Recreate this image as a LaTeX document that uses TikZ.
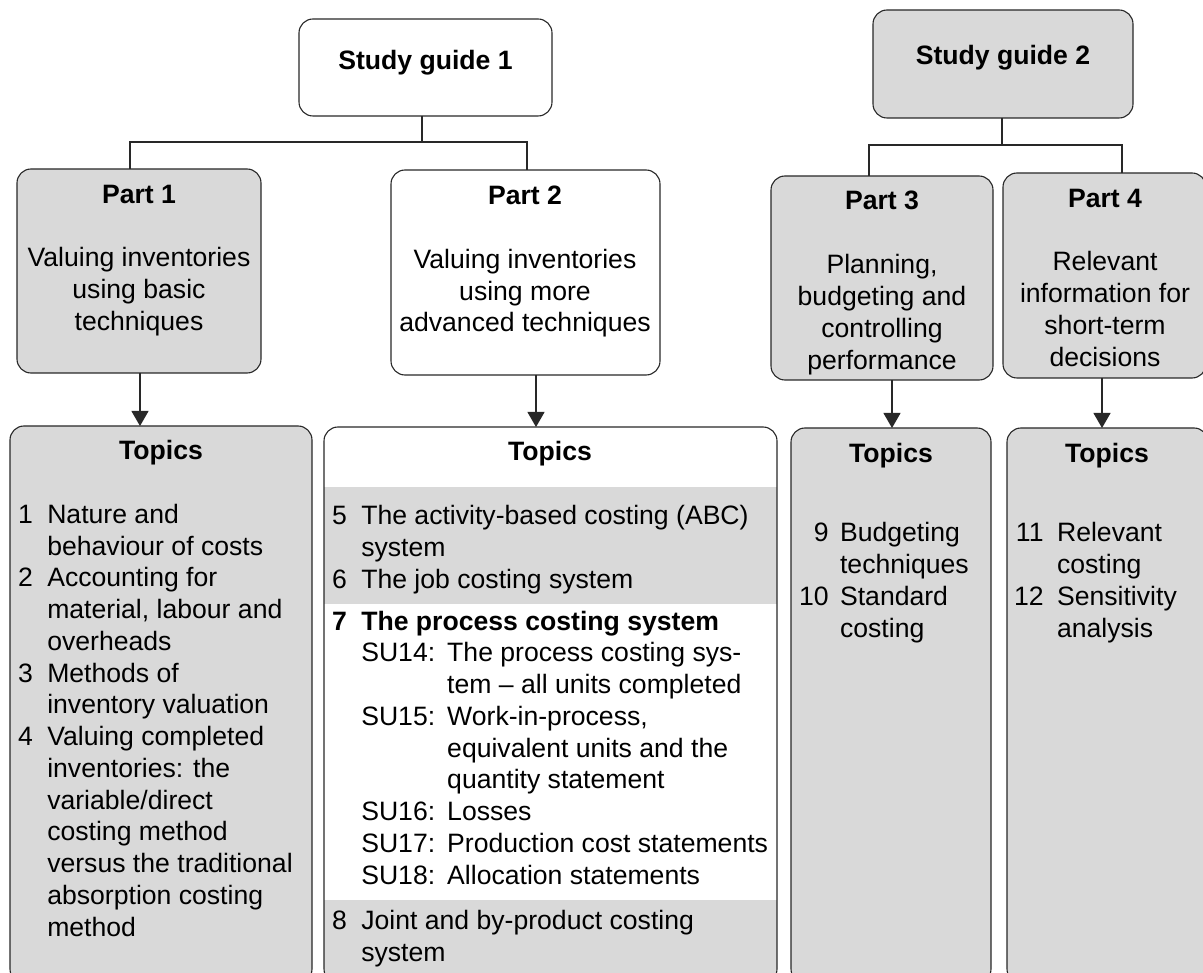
\documentclass[tikz,border=0pt]{standalone}
\usepackage{fontspec}
\setmainfont{Liberation Sans}
\usetikzlibrary{arrows.meta}
\definecolor{boxgray}{RGB}{217,217,217}
\definecolor{linegray}{RGB}{40,40,40}
\begin{document}
\begin{tikzpicture}[x=1pt,y=-1pt,
  font=\fontsize{26.6}{31.77}\selectfont,
  box/.style={draw=linegray, line width=1.1pt, rounded corners=14pt, inner sep=0pt, outer sep=0pt},
  gbox/.style={box, fill=boxgray},
  wbox/.style={box, fill=white},
  txt/.style={inner sep=0pt, outer sep=0pt},
  conn/.style={draw=linegray, line width=1.1pt},
  arr/.style={conn, -{Triangle[length=15pt,width=17pt]}}
]
\useasboundingbox (0,0) rectangle (1203,973);
\fill[white] (0,0) rectangle (1203,973);
\clip (0,0) rectangle (1203,973);

% ---- top level boxes
\node[wbox, minimum width=253pt, minimum height=97pt] (sg1) at (425.5,67.5) {};
\node[gbox, minimum width=260pt, minimum height=108pt] (sg2) at (1003,64) {};
\node[txt, anchor=base] (sg1t) at (425.5,69.3) {\textbf{Study guide 1}};
\node[txt, anchor=base] (sg2t) at (1003,65) {\textbf{Study guide 2}};

% ---- parts
\node[gbox, minimum width=244pt, minimum height=204pt] (p1) at (139,271) {};
\node[wbox, minimum width=269pt, minimum height=205pt] (p2) at (525.5,272.5) {};
\node[gbox, minimum width=222pt, minimum height=204pt] (p3) at (882,278) {};
\node[gbox, minimum width=203pt, minimum height=205pt] (p4) at (1104.5,275.5) {};

\node[txt, anchor=base] (p1t) at (139,203.5) {\textbf{Part 1}};
\node[txt, anchor=base] (p2t) at (525,205) {\textbf{Part 2}};
\node[txt, anchor=base] (p3t) at (882,210) {\textbf{Part 3}};
\node[txt, anchor=base] (p4t) at (1105,207.3) {\textbf{Part 4}};

\node[txt, anchor=base] (p1d) at (139,267) {\begin{tabular}[t]{@{}c@{}}Valuing inventories\\ using basic\\ techniques\end{tabular}};
\node[txt, anchor=base] (p2d) at (525,268.3) {\begin{tabular}[t]{@{}c@{}}Valuing inventories\\ using more\\ advanced techniques\end{tabular}};
\node[txt, anchor=base] (p3d) at (882,274) {\begin{tabular}[t]{@{}c@{}}Planning,\\ budgeting and\\ controlling\\ performance\end{tabular}};
\node[txt, anchor=base] (p4d) at (1105,270.7) {\begin{tabular}[t]{@{}c@{}}Relevant\\ information for\\ short-term\\ decisions\end{tabular}};

% ---- topics boxes
\node[gbox, minimum width=302pt, minimum height=557pt] (t1) at (161,704.5) {};
\node[gbox, minimum width=200pt, minimum height=555pt] (t3) at (891,705.5) {};
\node[gbox, minimum width=201pt, minimum height=555pt] (t4) at (1107.5,705.5) {};
\begin{scope}
  \clip[rounded corners=14pt] (324,427) rectangle (777,983);
  \fill[boxgray] (324,487) rectangle (777,604);
  \fill[boxgray] (324,900) rectangle (777,983);
\end{scope}
\node[box, minimum width=453pt, minimum height=556pt] (t2) at (550.5,705) {};

\node[txt, anchor=base] (t1t) at (161,460) {\textbf{Topics}};
\node[txt, anchor=base] (t2t) at (550,461) {\textbf{Topics}};
\node[txt, anchor=base] (t3t) at (891,462.7) {\textbf{Topics}};
\node[txt, anchor=base] (t4t) at (1107,462.7) {\textbf{Topics}};

\node[txt, anchor=base west] (t1list) at (18,523.3) {\begin{tabular}[t]{@{}l@{\hspace{14.5pt}}l@{}}
1 & Nature and\\
  & behaviour of costs\\
2 & Accounting for\\
  & material, labour and\\
  & overheads\\
3 & Methods of\\
  & inventory valuation\\
4 & Valuing completed\\
  & inventories: the\\
  & variable/direct\\
  & costing method\\
  & versus the traditional\\
  & absorption costing\\
  & method
\end{tabular}};

\node[txt, anchor=base west] (t2a) at (332,525) {\begin{tabular}[t]{@{}l@{\hspace{14.5pt}}l@{}}
5 & The activity-based costing (ABC)\\
  & system\\
6 & The job costing system
\end{tabular}};

\node[txt, anchor=base west] (t2b) at (332,630) {\begin{tabular}[t]{@{}l@{\hspace{14.5pt}}l@{\hspace{12pt}}l@{}}
\textbf{7} & \multicolumn{2}{@{}l@{}}{\textbf{The process costing system}}\\
  & SU14: & The process costing sys-\\
  &       & tem – all units completed\\
  & SU15: & Work-in-process,\\
  &       & equivalent units and the\\
  &       & quantity statement\\
  & SU16: & Losses\\
  & SU17: & Production cost statements\\
  & SU18: & Allocation statements
\end{tabular}};

\node[txt, anchor=base west] (t2c) at (332,929.3) {\begin{tabular}[t]{@{}l@{\hspace{14.5pt}}l@{}}
8 & Joint and by-product costing\\
  & system
\end{tabular}};

\node[txt, anchor=base west] (t3list) at (799,541.7) {\begin{tabular}[t]{@{}r@{\hspace{11.5pt}}l@{}}
9  & Budgeting\\
   & techniques\\
10 & Standard\\
   & costing
\end{tabular}};

\node[txt, anchor=base west] (t4list) at (1014,541.7) {\begin{tabular}[t]{@{}r@{\hspace{13.5pt}}l@{}}
11 & Relevant\\
   & costing\\
12 & Sensitivity\\
   & analysis
\end{tabular}};

% ---- tree connectors
\coordinate (j1) at (422,142);
\coordinate (j2) at (1002,145);
\draw[conn] ([xshift=-3.5pt]sg1.south) -- (j1);
\draw[conn] ([xshift=-9pt]p1.north) |- (j1) -| ([xshift=1.5pt]p2.north);
\draw[conn] ([xshift=-1pt]sg2.south) -- (j2);
\draw[conn] ([xshift=-13pt]p3.north) |- (j2) -| ([xshift=17.5pt]p4.north);

% ---- arrows
\draw[arr] ([xshift=1pt]p1.south) -- ([xshift=1pt]p1.south |- t1.north);
\draw[arr] ([xshift=10.5pt]p2.south) -- ([xshift=10.5pt]p2.south |- t2.north);
\draw[arr] ([xshift=10pt]p3.south) -- ([xshift=10pt]p3.south |- t3.north);
\draw[arr] ([xshift=-2.5pt]p4.south) -- ([xshift=-2.5pt]p4.south |- t4.north);
\end{tikzpicture}
\end{document}
